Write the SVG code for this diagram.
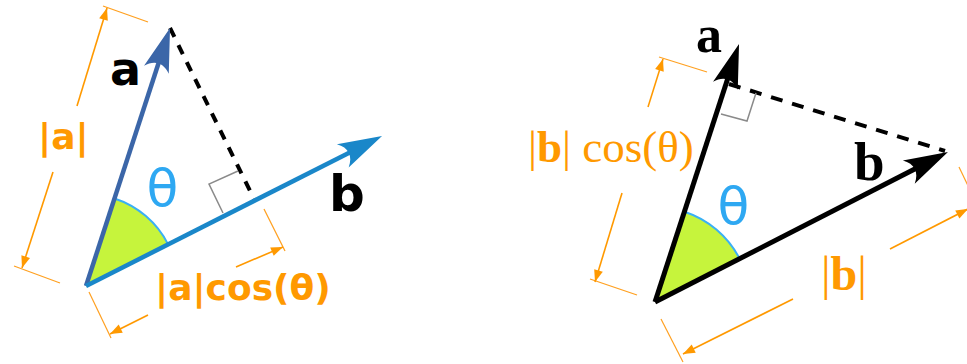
<svg xmlns="http://www.w3.org/2000/svg" width="967" height="364" viewBox="0 0 967 364">
<style>
.dim{stroke:#ff9900;stroke-width:1.6;fill:none}
.ext{stroke:#ffa020;stroke-width:1.2;fill:none}
.dash{stroke:#000;stroke-width:4;fill:none;stroke-dasharray:10 9}
.mark{stroke:#8a8a8a;stroke-width:1.5;fill:none}
.wedge{fill:#c6f43c;stroke:none}
.arc{fill:none;stroke:#3ab0f5;stroke-width:2}
.sans{font-family:"DejaVu Sans",sans-serif}
.serif{font-family:"Liberation Serif","Times New Roman",serif}
.org{fill:#ff9900}
.theta{fill:#2ea8f2;font-family:"DejaVu Sans",sans-serif;font-size:52px}
</style>
<defs>
<marker id="hA" markerUnits="userSpaceOnUse" viewBox="-46 -14 48 28" refX="-34" refY="0" markerWidth="48" markerHeight="28" orient="auto" overflow="visible"><path d="M0,0 L-44,-13 C-35,-5 -35,5 -44,13 Z" fill="#3b66a8"/></marker>
<marker id="hB" markerUnits="userSpaceOnUse" viewBox="-46 -14 48 28" refX="-34" refY="0" markerWidth="48" markerHeight="28" orient="auto" overflow="visible"><path d="M0,0 L-44,-13 C-35,-5 -35,5 -44,13 Z" fill="#1a87c9"/></marker>
<marker id="hK" markerUnits="userSpaceOnUse" viewBox="-46 -14 48 28" refX="-34" refY="0" markerWidth="48" markerHeight="28" orient="auto" overflow="visible"><path d="M0,0 L-44,-13 C-35,-5 -35,5 -44,13 Z" fill="#000"/></marker>
<marker id="ho" markerUnits="userSpaceOnUse" viewBox="-14 -6 16 12" refX="0" refY="0" markerWidth="16" markerHeight="12" orient="auto-start-reverse" overflow="visible"><path d="M0,0 L-12,-4.5 L-12,4.5 Z" fill="#ff9900"/></marker>
</defs>

<g id="left-figure">
  <g id="left-angle">
    <path class="wedge" d="M86,286 L114.5,198.5 A92,92 0 0,1 168.1,244.4 Z"/>
    <path class="arc" d="M114.5,198.5 A92,92 0 0,1 168.1,244.4"/>
  </g>
  <g id="left-projection">
    <line class="dash" x1="170" y1="28" x2="254" y2="199"/>
    <polyline class="mark" points="223,213 209,184 238,171"/>
  </g>
  <g id="left-dimensions">
    <line class="ext" x1="103" y1="6" x2="148" y2="22"/>
    <line class="ext" x1="14" y1="266" x2="60" y2="283"/>
    <line class="dim" x1="107" y1="8" x2="77" y2="106" marker-start="url(#ho)"/>
    <line class="dim" x1="53" y1="172" x2="22" y2="268" marker-end="url(#ho)"/>
    <line class="ext" x1="89" y1="292" x2="111" y2="338"/>
    <line class="ext" x1="264" y1="209" x2="285" y2="251"/>
    <line class="dim" x1="110" y1="334" x2="148" y2="315" marker-start="url(#ho)"/>
    <line class="dim" x1="236" y1="267" x2="283" y2="247" marker-end="url(#ho)"/>
  </g>
  <g id="left-vectors">
    <line x1="86" y1="286" x2="159.5" y2="60.3" stroke="#3b66a8" stroke-width="4.5" marker-end="url(#hA)"/>
    <line x1="86" y1="286" x2="351.7" y2="151.4" stroke="#1a87c9" stroke-width="4.5" marker-end="url(#hB)"/>
  </g>
  <g id="left-labels">
    <text class="sans" x="110" y="85" font-size="46" font-weight="bold" fill="#000">a</text>
    <text class="sans" x="329" y="211" font-size="50" font-weight="bold" fill="#000">b</text>
    <text class="theta" x="162.5" y="206" text-anchor="middle">θ</text>
    <text class="sans org" x="38" y="149" font-size="36" font-weight="bold">|a|</text>
    <text class="sans org" x="155" y="300" font-size="36" font-weight="bold">|a|cos(θ)</text>
  </g>
</g>

<g id="right-figure">
  <g id="right-angle">
    <path class="wedge" d="M655,302 L684.4,211.7 A95,95 0 0,1 739.6,258.7 Z"/>
    <path class="arc" d="M684.4,211.7 A95,95 0 0,1 739.6,258.7"/>
  </g>
  <g id="right-projection">
    <line class="dash" x1="729" y1="84" x2="945" y2="151" style="stroke-dasharray:12 10"/>
    <polyline class="mark" points="721,114 747,121 756,93"/>
  </g>
  <g id="right-dimensions">
    <line class="ext" x1="659" y1="57" x2="707" y2="72"/>
    <line class="ext" x1="590" y1="279" x2="637" y2="295"/>
    <line class="dim" x1="663" y1="59" x2="648" y2="107" marker-start="url(#ho)"/>
    <line class="dim" x1="622" y1="193" x2="595" y2="282" marker-end="url(#ho)"/>
    <line class="ext" x1="661" y1="319" x2="683" y2="362"/>
    <line class="ext" x1="959" y1="167" x2="970" y2="190"/>
    <line class="dim" x1="683" y1="354" x2="793" y2="299" marker-start="url(#ho)"/>
    <line class="dim" x1="890" y1="249" x2="968" y2="209" marker-end="url(#ho)"/>
  </g>
  <g id="right-vectors">
    <line x1="655" y1="302" x2="728.5" y2="76.3" stroke="#000" stroke-width="5" marker-end="url(#hK)"/>
    <line x1="655" y1="302" x2="917.7" y2="167.5" stroke="#000" stroke-width="5" marker-end="url(#hK)"/>
  </g>
  <g id="right-labels">
    <text class="serif" x="696" y="52" font-size="52" font-weight="bold" fill="#000">a</text>
    <text class="serif" x="854" y="180" font-size="55" font-weight="bold" fill="#000">b</text>
    <text class="theta" x="733.5" y="224" text-anchor="middle">θ</text>
    <text class="serif org" x="528" y="162" font-size="45">|<tspan font-weight="bold">b</tspan>| cos(θ)</text>
    <text class="serif org" x="821" y="290" font-size="48">|<tspan font-weight="bold">b</tspan>|</text>
  </g>
</g>
</svg>
